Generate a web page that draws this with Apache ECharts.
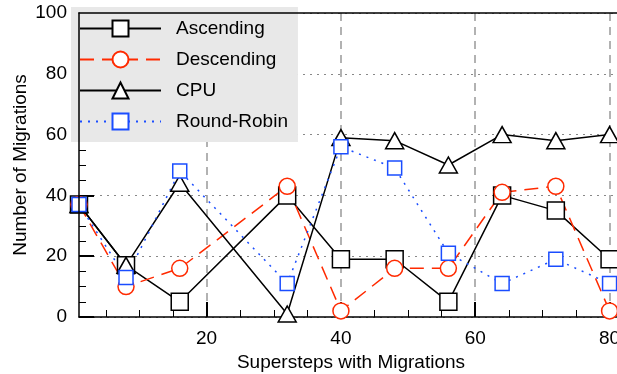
<!DOCTYPE html>
<html>
<head>
<meta charset="utf-8">
<script src="https://cdn.jsdelivr.net/npm/echarts@6/dist/echarts.min.js"></script>
<style>html,body{margin:0;padding:0;background:#fff}#c{width:617px;height:374px}</style>
</head>
<body>
<div id="c"></div>
<script>
var steps = [1, 8, 16, 32, 40, 48, 56, 64, 72, 80];
var ascending = [37, 17, 5, 40, 19, 19, 5, 40, 35, 19];
var descending = [37, 10, 16, 43, 2, 16, 16, 41, 43, 2];
var cpu = [37, 17, 44, 1, 59, 58, 50, 60, 58, 60];
var roundRobin = [37, 13, 48, 11, 56, 49, 21, 11, 19, 11];
var xMajorTicks = [20, 40, 60, 80];
var xMinorTicks = [5, 10, 15, 20, 25, 30, 35, 40, 45, 50, 55, 60, 65, 70, 75, 80];

function pairs(ys) { return steps.map(function (x, i) { return [x, ys[i]]; }); }

var FONT = 'Liberation Sans';
var chart = echarts.init(document.getElementById('c'), null, {renderer: 'canvas'});
chart.setOption({
  animation: false,
  textStyle: {fontFamily: FONT},
  grid: {left: 79, top: 13, bottom: 57, right: -6, containLabel: false, outerBoundsMode: 'none'},
  legend: {
    orient: 'vertical', left: 71, top: 7, z: 4,
    backgroundColor: '#e8e8e8',
    padding: [12, 10, 11, 8],
    itemWidth: 81, itemHeight: 20, itemGap: 12,
    textStyle: {fontSize: 19, color: '#000', fontFamily: FONT, padding: [0, 0, 0, 10]},
    data: ['Ascending', 'Descending', 'CPU', 'Round-Robin']
  },
  xAxis: [
    {
      type: 'value', min: 1, max: 82, position: 'bottom', z: 0,
      name: 'Supersteps with Migrations', nameLocation: 'middle', nameGap: 27,
      nameTextStyle: {fontSize: 19, color: '#000', fontFamily: FONT},
      axisLine: {show: true, lineStyle: {color: '#000', width: 1.5}},
      axisTick: {show: true, inside: true, length: 15, customValues: xMajorTicks, lineStyle: {color: '#000', width: 2}},
      axisLabel: {show: true, customValues: xMajorTicks, fontSize: 19, color: '#000', margin: 12, fontFamily: FONT},
      splitLine: {show: true, lineStyle: {color: '#999', width: 1.5, type: [8, 6]}}
    },
    {
      type: 'value', min: 1, max: 82, position: 'bottom', z: 0,
      axisLine: {show: false},
      axisTick: {show: true, inside: true, length: 7, customValues: xMinorTicks, lineStyle: {color: '#000', width: 1}},
      axisLabel: {show: false},
      splitLine: {show: false}
    },
    {
      type: 'value', min: 1, max: 82, position: 'top', z: 10,
      axisLine: {show: true, lineStyle: {color: '#000', width: 1.5}},
      axisTick: {show: false}, axisLabel: {show: false}, splitLine: {show: false}
    }
  ],
  yAxis: [
    {
      type: 'value', min: 0, max: 100, interval: 20, position: 'left', z: 0,
      name: 'Number of Migrations', nameLocation: 'middle', nameGap: 49, nameRotate: 90,
      nameMoveOverlap: false,
      nameTextStyle: {fontSize: 19, color: '#000', fontFamily: FONT},
      axisLine: {show: false},
      axisTick: {show: true, inside: true, length: 15, lineStyle: {color: '#000', width: 2}},
      minorTick: {show: true, splitNumber: 4, length: 7, lineStyle: {color: '#000', width: 1}},
      axisLabel: {show: true, fontSize: 19, color: '#000', margin: 12, fontFamily: FONT},
      splitLine: {show: true, lineStyle: {color: '#888', width: 1.2, type: [2, 5]}}
    },
    {
      type: 'value', min: 0, max: 100, position: 'left', z: 10,
      axisLine: {show: true, lineStyle: {color: '#000', width: 1.5}},
      axisTick: {show: false}, axisLabel: {show: false}, splitLine: {show: false}
    }
  ],
  series: [
    {
      name: 'Ascending', type: 'line', data: pairs(ascending), z: 3,
      symbol: 'rect', symbolSize: 17,
      lineStyle: {color: '#000', width: 1.5, type: 'solid'},
      itemStyle: {color: '#fff', borderColor: '#000', borderWidth: 1.5}
    },
    {
      name: 'Descending', type: 'line', data: pairs(descending), z: 3,
      symbol: 'circle', symbolSize: 16,
      lineStyle: {color: '#ff2a00', width: 1.5, type: [14, 8]},
      itemStyle: {color: '#fff', borderColor: '#ff2a00', borderWidth: 1.5}
    },
    {
      name: 'CPU', type: 'line', data: pairs(cpu), z: 3,
      symbol: 'triangle', symbolSize: [18, 16],
      lineStyle: {color: '#000', width: 1.5, type: 'solid'},
      itemStyle: {color: '#fff', borderColor: '#000', borderWidth: 1.5}
    },
    {
      name: 'Round-Robin', type: 'line', data: pairs(roundRobin), z: 3,
      symbol: 'rect', symbolSize: 14,
      lineStyle: {color: '#1a4dff', width: 1.5, type: [2, 6]},
      itemStyle: {color: '#fff', borderColor: '#1a4dff', borderWidth: 1.5}
    }
  ]
});
</script>
</body>
</html>
